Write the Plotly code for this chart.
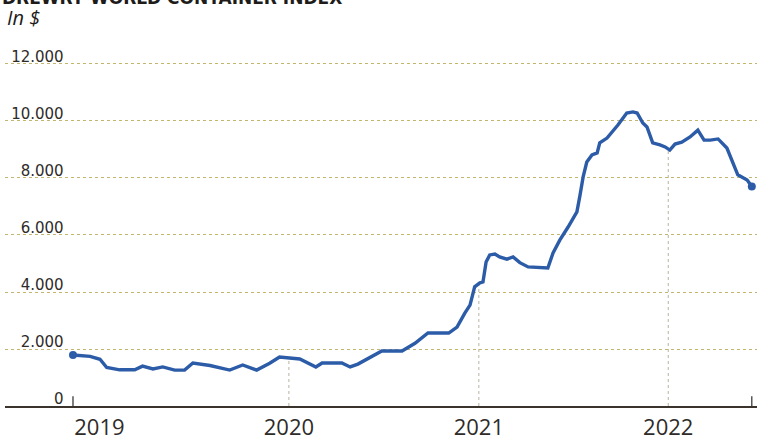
import numpy as np
import pandas as pd
import plotly.graph_objects as go

# Drewry World Container Index (US$ per 40ft container)
dates = [
    "2018-11-11", "2018-11-25", "2018-12-14", "2019-01-02", "2019-01-15", "2019-02-09",
    "2019-03-10", "2019-03-25", "2019-04-14", "2019-05-03", "2019-05-26", "2019-06-14",
    "2019-06-30", "2019-08-02", "2019-09-09", "2019-10-04", "2019-10-31", "2019-11-25",
    "2019-12-14", "2020-01-22", "2020-02-22", "2020-03-05", "2020-04-12", "2020-04-28",
    "2020-05-13", "2020-06-28", "2020-08-06", "2020-08-31", "2020-09-25", "2020-11-04",
    "2020-11-20", "2020-12-05", "2020-12-15", "2020-12-24", "2021-01-03", "2021-01-09",
    "2021-01-15", "2021-01-22", "2021-02-01", "2021-02-10", "2021-02-24", "2021-03-08",
    "2021-03-21", "2021-04-06", "2021-05-14", "2021-05-24", "2021-06-06", "2021-06-22",
    "2021-07-09", "2021-07-15", "2021-07-21", "2021-07-28", "2021-08-07", "2021-08-17",
    "2021-08-22", "2021-09-05", "2021-09-14", "2021-09-26", "2021-10-13", "2021-10-25",
    "2021-11-02", "2021-11-13", "2021-11-21", "2021-12-02", "2021-12-16", "2021-12-26",
    "2022-01-04", "2022-01-14", "2022-01-27", "2022-02-12", "2022-02-27", "2022-03-11",
    "2022-03-23", "2022-04-07", "2022-04-24", "2022-05-06", "2022-05-15", "2022-06-02",
    "2022-06-11",
]
wci_values = [
    1790, 1760, 1740, 1640, 1350, 1270,
    1270, 1400, 1300, 1370, 1260, 1260,
    1510, 1420, 1260, 1440, 1260, 1500,
    1720, 1650, 1370, 1510, 1510, 1370,
    1470, 1930, 1930, 2200, 2560, 2560,
    2770, 3260, 3540, 4180, 4320, 4350,
    5050, 5300, 5330, 5230, 5150, 5230,
    5030, 4880, 4840, 5370, 5820, 6280,
    6810, 7400, 8040, 8560, 8810, 8880,
    9230, 9400, 9580, 9860, 10280, 10320,
    10280, 9930, 9790, 9230, 9160, 9090,
    8980, 9190, 9260, 9440, 9680, 9330,
    9330, 9370, 9050, 8530, 8110, 7930,
    7700,
]

year_ticks = ["2019-01-01", "2020-01-01", "2021-01-01", "2022-01-01"]
year_labels = ["2019", "2020", "2021", "2022"]
drop_years = ["2020-01-01", "2021-01-01", "2022-01-01"]

y_ticks = [0, 2000, 4000, 6000, 8000, 10000, 12000]
y_labels = ["0", "2.000", "4.000", "6.000", "8.000", "10.000", "12.000"]

title_text = "DREWRY WORLD CONTAINER INDEX"
subtitle_text = "In $"

LINE = "#2c5ca8"
GRID = "#c4b56e"
TXT = "#2e2b28"

d = pd.to_datetime(dates)
fig = go.Figure()
fig.add_trace(go.Scatter(
    x=d, y=wci_values, mode="lines",
    line=dict(color=LINE, width=3.4), hoverinfo="skip", showlegend=False,
    cliponaxis=False,
))
fig.add_trace(go.Scatter(
    x=[d[0], d[-1]], y=[wci_values[0], wci_values[-1]], mode="markers",
    marker=dict(color=LINE, size=8), hoverinfo="skip", showlegend=False,
    cliponaxis=False,
))

# drop lines at year boundaries, from the curve down to the axis
t_num = d.astype("int64").to_numpy().astype(float)
shapes = []
for yr in drop_years:
    ts = pd.Timestamp(yr)
    v = float(np.interp(float(ts.value), t_num, wci_values))
    shapes.append(dict(type="line", xref="x", yref="y", x0=ts, x1=ts, y0=0, y1=v,
                       line=dict(color="#b9b3a3", width=1, dash="dot"), layer="below"))
# small ticks at the start and end of the series
for ts in (d[0], d[-1]):
    shapes.append(dict(type="line", xref="x", yref="paper", x0=ts, x1=ts, y0=0, y1=0.028,
                       line=dict(color=TXT, width=1.2)))

fig.update_layout(
    width=757, height=437,
    margin=dict(l=5, r=0, t=58, b=31, autoexpand=False),
    paper_bgcolor="white", plot_bgcolor="white",
    shapes=shapes,
    xaxis=dict(
        type="date", automargin=False,
        range=["2018-07-03", "2022-06-21"],
        tickvals=pd.to_datetime(year_ticks), ticktext=year_labels,
        showgrid=False, zeroline=False,
        showline=True, linecolor="#3b342c", linewidth=2,
        ticks="", ticklabelstandoff=1,
        tickfont=dict(family="Open Sans", size=22, color=TXT),
    ),
    yaxis=dict(
        range=[0, 12210], automargin=False,
        tickvals=y_ticks, ticktext=y_labels,
        anchor="free", position=0.078,
        ticklabelposition="outside top", ticklabelshift=3,
        showgrid=True, gridcolor=GRID, griddash="dot", gridwidth=1,
        zeroline=False, showline=False, ticks="",
        tickfont=dict(family="DejaVu Sans", size=15, color=TXT),
    ),
    annotations=[
        dict(text="<b>" + title_text + "</b>", xref="paper", yref="paper",
             x=-0.007, y=1, yshift=48, xanchor="left", yanchor="bottom", showarrow=False,
             font=dict(family="DejaVu Sans", size=17, color="#1e1c1a")),
        dict(text="<i>" + subtitle_text + "</i>", xref="paper", yref="paper",
             x=0.0, y=1, yshift=25, xanchor="left", yanchor="bottom", showarrow=False,
             font=dict(family="Open Sans", size=20, color="#1e1c1a")),
    ],
)

fig.write_html("out.html", config={"displayModeBar": False},
               post_script="document.body.style.margin='0';")
